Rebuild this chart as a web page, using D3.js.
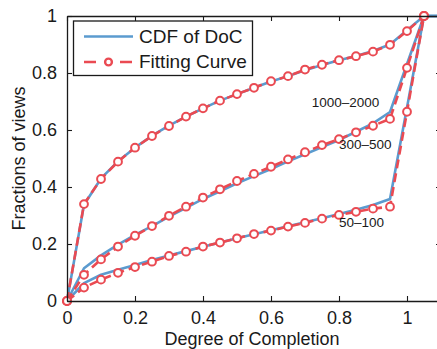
<!DOCTYPE html>
<html>
<head>
<meta charset="utf-8">
<script src="https://cdn.jsdelivr.net/npm/d3@7/dist/d3.min.js"></script>
<style>
  html, body { margin: 0; padding: 0; background: #fff; }
  svg { display: block; font-family: "Liberation Sans", Arial, Helvetica, sans-serif; }
</style>
</head>
<body>
<svg id="chart" width="437" height="349"></svg>
<script>
// Degree of Completion grid (fitted curves are sampled every 0.05)
const fitX = [0, 0.05, 0.1, 0.15, 0.2, 0.25, 0.3, 0.35, 0.4, 0.45, 0.5,
              0.55, 0.6, 0.65, 0.7, 0.75, 0.8, 0.85, 0.9, 0.95, 1.0, 1.05];
// Empirical CDF sample positions
const cdfX = [0, 0.05, 0.1, 0.15, 0.2, 0.25, 0.3, 0.35, 0.4, 0.45, 0.5,
              0.55, 0.6, 0.65, 0.7, 0.75, 0.8, 0.85, 0.9, 0.95, 1.05, 1.1];

// Groups by number of views
const groupNames = ["1000–2000", "300–500", "50–100"];

// Empirical CDF of DoC per group
const cdfHigh = [0, 0.338, 0.43, 0.49, 0.538, 0.58, 0.615, 0.647, 0.676, 0.703, 0.726,
                 0.748, 0.77, 0.789, 0.81, 0.828, 0.845, 0.86, 0.877, 0.9, 1, 1];
const cdfMid  = [0, 0.115, 0.16, 0.198, 0.232, 0.263, 0.296, 0.327, 0.358, 0.385, 0.413,
                 0.438, 0.463, 0.49, 0.515, 0.54, 0.565, 0.594, 0.623, 0.663, 1, 1];
const cdfLow  = [0, 0.063, 0.092, 0.11, 0.126, 0.144, 0.16, 0.175, 0.19, 0.205, 0.22,
                 0.234, 0.248, 0.262, 0.276, 0.29, 0.305, 0.32, 0.337, 0.358, 1, 1];

// Fitting curves per group
const fitHigh = [0, 0.34, 0.428, 0.489, 0.538, 0.579, 0.614, 0.647, 0.676, 0.703, 0.726,
                 0.748, 0.771, 0.789, 0.812, 0.829, 0.845, 0.859, 0.875, 0.899, 0.947, 1];
const fitMid  = [0, 0.092, 0.146, 0.191, 0.229, 0.263, 0.299, 0.331, 0.363, 0.392, 0.421,
                 0.446, 0.471, 0.497, 0.522, 0.547, 0.568, 0.592, 0.615, 0.639, 0.818, 1];
const fitLow  = [0, 0.047, 0.075, 0.099, 0.119, 0.138, 0.158, 0.173, 0.191, 0.205, 0.22,
                 0.235, 0.247, 0.261, 0.274, 0.289, 0.302, 0.313, 0.324, 0.331, 0.664, 1];

// Axis ticks
const xTicks = [0, 0.2, 0.4, 0.6, 0.8, 1];
const yTicks = [0, 0.2, 0.4, 0.6, 0.8, 1];
const xTickLabels = ["0", "0.2", "0.4", "0.6", "0.8", "1"];
const yTickLabels = ["0", "0.2", "0.4", "0.6", "0.8", "1"];

// Curve annotation anchors (x, y in data units)
const labelX = [0.72, 0.8, 0.8];
const labelY = [0.68, 0.532, 0.26];

const BLUE = "#5b9bcf";
const RED = "#ea4a52";
const INK = "#1a1a1a";

const svg = d3.select("#chart");
const plotLeft = 67, plotRight = 441, plotTop = 16, plotBottom = 301;

const x = d3.scaleLinear().domain([0, 1.1]).range([plotLeft, plotRight]);
const y = d3.scaleLinear().domain([0, 1]).range([plotBottom, plotTop]);

const cdfSeries = [cdfHigh, cdfMid, cdfLow];
const fitSeries = [fitHigh, fitMid, fitLow];

const line = d3.line().x(d => x(d[0])).y(d => y(d[1]));

// CDF lines
const plot = svg.append("g");
cdfSeries.forEach(vals => {
  plot.append("path")
    .datum(cdfX.map((v, i) => [v, vals[i]]))
    .attr("d", line)
    .attr("fill", "none")
    .attr("stroke", BLUE)
    .attr("stroke-width", 2.6)
    .attr("stroke-linejoin", "round");
});

// Fitting curves (dashed) with open circle markers
fitSeries.forEach(vals => {
  const pts = fitX.map((v, i) => [v, vals[i]]);
  plot.append("path")
    .datum(pts)
    .attr("d", line)
    .attr("fill", "none")
    .attr("stroke", RED)
    .attr("stroke-width", 2.6)
    .attr("stroke-dasharray", "9,5");
  plot.selectAll(null)
    .data(pts)
    .enter().append("circle")
    .attr("cx", d => x(d[0]))
    .attr("cy", d => y(d[1]))
    .attr("r", 3.9)
    .attr("fill", "#fff")
    .attr("stroke", RED)
    .attr("stroke-width", 2);
});

// Axes: box with inward ticks
const tickLen = 5;
const axisFont = 18;

const xAxisB = d3.axisBottom(x).tickValues(xTicks).tickSizeInner(-tickLen).tickSizeOuter(0)
  .tickPadding(10).tickFormat((d, i) => xTickLabels[i]);
const xAxisT = d3.axisTop(x).tickValues(xTicks).tickSizeInner(-tickLen).tickSizeOuter(0)
  .tickFormat("");
const yAxisL = d3.axisLeft(y).tickValues(yTicks).tickSizeInner(-tickLen).tickSizeOuter(0)
  .tickPadding(10).tickFormat((d, i) => yTickLabels[i]);
const yAxisR = d3.axisRight(y).tickValues(yTicks).tickSizeInner(-tickLen).tickSizeOuter(0)
  .tickFormat("");

function styleAxis(g) {
  g.select(".domain").attr("stroke", INK).attr("stroke-width", 1.3);
  g.selectAll(".tick line").attr("stroke", INK).attr("stroke-width", 1.1);
  g.selectAll(".tick text").attr("fill", INK).attr("font-size", axisFont)
    .attr("font-family", "Liberation Sans, Arial, sans-serif");
}

svg.append("g").attr("transform", `translate(0,${plotBottom})`).call(xAxisB).call(styleAxis)
  .selectAll(".tick text").attr("dy", "0.71em").attr("y", 10);
svg.append("g").attr("transform", `translate(0,${plotTop})`).call(xAxisT).call(styleAxis);
svg.append("g").attr("transform", `translate(${plotLeft},0)`).call(yAxisL).call(styleAxis);
svg.append("g").attr("transform", `translate(${plotRight},0)`).call(yAxisR).call(styleAxis);

// Axis titles
svg.append("text")
  .attr("x", (plotLeft + plotRight) / 2 - 2)
  .attr("y", 345)
  .attr("text-anchor", "middle")
  .attr("font-size", 18)
  .attr("fill", INK)
  .text("Degree of Completion");

svg.append("text")
  .attr("transform", `translate(25,${(plotTop + plotBottom) / 2}) rotate(-90)`)
  .attr("text-anchor", "middle")
  .attr("font-size", 18)
  .attr("fill", INK)
  .text("Fractions of views");

// Group annotations
groupNames.forEach((name, i) => {
  svg.append("text")
    .attr("x", x(labelX[i]))
    .attr("y", y(labelY[i]))
    .attr("font-size", 13.5)
    .attr("fill", INK)
    .text(name);
});

// Legend
const legend = svg.append("g");
legend.append("rect")
  .attr("x", 73.5).attr("y", 21).attr("width", 179).attr("height", 54.5)
  .attr("fill", "#fff").attr("stroke", INK).attr("stroke-width", 1.3);

legend.append("line")
  .attr("x1", 84).attr("x2", 133).attr("y1", 36.5).attr("y2", 36.5)
  .attr("stroke", BLUE).attr("stroke-width", 2.6);
legend.append("text")
  .attr("x", 139).attr("y", 43).attr("font-size", 19).attr("fill", INK)
  .text("CDF of DoC");

legend.append("line")
  .attr("x1", 84).attr("x2", 133).attr("y1", 62).attr("y2", 62)
  .attr("stroke", RED).attr("stroke-width", 2.6).attr("stroke-dasharray", "12,24");
legend.append("circle")
  .attr("cx", 108.5).attr("cy", 62).attr("r", 3.4)
  .attr("fill", "#fff").attr("stroke", RED).attr("stroke-width", 2.4);
legend.append("text")
  .attr("x", 139).attr("y", 68).attr("font-size", 19).attr("fill", INK)
  .text("Fitting Curve");
</script>
</body>
</html>
